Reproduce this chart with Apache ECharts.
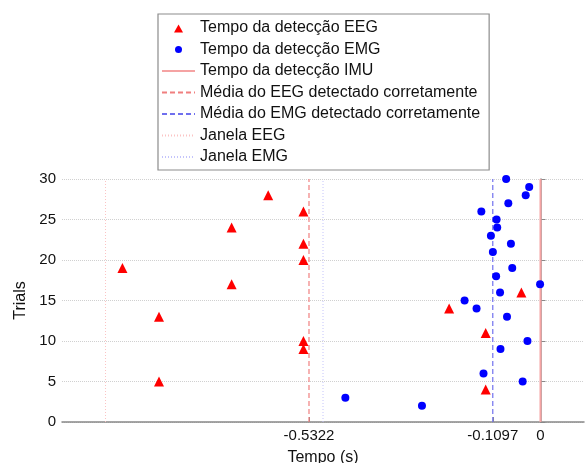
<!DOCTYPE html>
<html><head><meta charset="utf-8">
<script src="https://cdn.jsdelivr.net/npm/echarts@6/dist/echarts.min.js"></script>
<style>html,body{margin:0;padding:0;background:#fff}#c{width:585px;height:463px}</style>
</head><body><div id="c"></div>
<script>
// EEG detection times (s) and trial numbers
const eegTrials = [28, 24, 26, 22, 20, 19, 17, 13, 10, 9, 5, 14, 11, 4, 16];
const eegTimes  = [-0.626, -0.710, -0.545, -0.545, -0.545, -0.961, -0.710, -0.877, -0.545, -0.545, -0.877, -0.210, -0.126, -0.126, -0.044];
// EMG detection times (s) and trial numbers
const emgTrials = [30, 29, 28, 27, 26, 25, 24, 23, 22, 21, 19, 18, 17, 16, 15, 14, 13, 10, 9, 6, 5, 3, 2];
const emgTimes  = [-0.079, -0.026, -0.034, -0.074, -0.136, -0.101, -0.0995, -0.114, -0.068, -0.1095, -0.065, -0.102, -0.001, -0.093, -0.1745, -0.147, -0.077, -0.030, -0.092, -0.131, -0.041, -0.4486, -0.2725];
// Reference lines
const imuTime = 0;
const meanEEG = -0.5322;
const meanEMG = -0.1097;
const windowEEG = -1.0;
const windowEMG = -0.5;
// Axes
const xTickValues = [-0.5322, -0.1097, 0];
const yTickValues = [0, 5, 10, 15, 20, 25, 30];
const xRange = [-1.1, 0.1];
const yRange = [0, 30];

const names = ['Tempo da detecção EEG','Tempo da detecção EMG','Tempo da detecção IMU',
  'Média do EEG detectado corretamente','Média do EMG detectado corretamente','Janela EEG','Janela EMG'];

function vline(x){ return [[x, yRange[0]], [x, yRange[1]]]; }
function lineSeries(name, x, color, type, width, z){
  return {name, type:'line', data: vline(x), symbol:'none', silent:true, z,
    lineStyle:{color, type, width}, itemStyle:{color, opacity:0}};
}
const font = 'Liberation Sans, Arial, sans-serif';
// legend icons padded to the 33x9 legend cell so the marker is not stretched
const triIcon = 'path://M0,0M33,9M12,9L16.5,1L21,9Z';
const dotIcon = 'path://M0,0M33,9M13,4.5A3.5,3.5,0,1,1,20,4.5A3.5,3.5,0,1,1,13,4.5Z';

const chart = echarts.init(document.getElementById('c'), null, {renderer:'canvas'});
chart.setOption({
  animation:false,
  grid:{left:62, top:179, right:1, bottom:41, containLabel:false, outerBoundsMode:'none'},
  legend:{
    orient:'vertical', left:158, top:14,
    data:names.map((n,i)=> i===0 ? {name:n, icon:triIcon} : i===1 ? {name:n, icon:dotIcon} : {name:n, itemStyle:{opacity:0}}),
    itemWidth:33, itemHeight:9, itemGap:5.5, itemTextGap:5,
    padding:[6,9,5,3],
    borderColor:'#8c8c8c', borderWidth:1.2, backgroundColor:'#fff',
    textStyle:{fontFamily:font, fontSize:16, color:'#111', lineHeight:16},
    selectedMode:false
  },
  xAxis:{
    type:'value', min:xRange[0], max:xRange[1],
    name:'Tempo (s)', nameLocation:'middle', nameGap:28,
    nameTextStyle:{fontFamily:font, fontSize:16, color:'#111'},
    axisLine:{lineStyle:{color:'#888', width:1.5}},
    axisTick:{show:true, inside:true, length:5, customValues:xTickValues, lineStyle:{color:'#888'}},
    axisLabel:{customValues:xTickValues, formatter:v=>String(v), margin:6,
      fontFamily:font, fontSize:15, color:'#111'},
    splitLine:{show:false}
  },
  yAxis:{
    type:'value', min:yRange[0], max:yRange[1], interval:5,
    name:'Trials', nameLocation:'middle', nameGap:28, nameRotate:90,
    nameTextStyle:{fontFamily:font, fontSize:16, color:'#111'},
    axisLine:{show:true, lineStyle:{color:'#888', width:1.5}},
    axisTick:{show:true, inside:true, length:5, lineStyle:{color:'#888'}},
    axisLabel:{margin:6, fontFamily:font, fontSize:15, color:'#111', customValues:yTickValues},
    splitLine:{show:true, lineStyle:{color:'#d0d0d0', type:'dotted', width:1}}
  },
  series:[
    {name:names[0], type:'scatter', symbol:'triangle', symbolSize:10, z:10,
      itemStyle:{color:'#ff0000', opacity:1}, data:eegTimes.map((t,i)=>[t, eegTrials[i]])},
    {name:names[1], type:'scatter', symbol:'circle', symbolSize:8, z:10,
      itemStyle:{color:'#0000ff', opacity:1}, data:emgTimes.map((t,i)=>[t, emgTrials[i]])},
    lineSeries(names[2], imuTime, '#f5a3a3', 'solid', 2, 3),
    lineSeries(names[3], meanEEG, '#f07f7f', [5,3], 1.2, 3),
    lineSeries(names[4], meanEMG, '#6f6fee', [5,3], 1.2, 3),
    lineSeries(names[5], windowEEG, '#fbc4c4', [1,2], 1, 2),
    lineSeries(names[6], windowEMG, '#c4c4fb', [1,2], 1, 2)
  ]
});
</script></body></html>
